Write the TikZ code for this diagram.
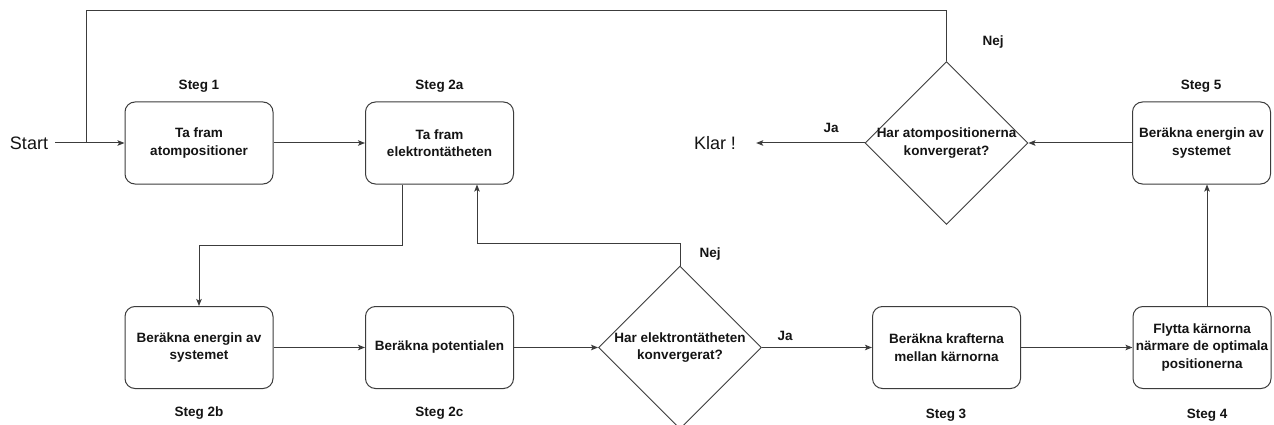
\documentclass[tikz,border=0pt]{standalone}
\usepackage{fontspec}
\setmainfont{Liberation Sans}
\usetikzlibrary{shapes.geometric,arrows.meta}
\definecolor{ln}{RGB}{60,60,60}
\definecolor{tx}{RGB}{20,20,20}
\begin{document}
\begin{tikzpicture}[x=1pt,y=-1pt,
  every node/.style={text=tx},
  box/.style={draw=ln,line width=1pt,rounded corners=10pt,minimum height=82pt,
    align=center,font=\bfseries\fontsize{13.5}{17.5}\selectfont,inner sep=2pt},
  dia/.style={draw=ln,line width=0.9pt,shape=diamond,minimum width=163pt,minimum height=163pt,inner sep=0pt},
  dtxt/.style={align=center,font=\bfseries\fontsize{13.5}{17.5}\selectfont,inner sep=0pt},
  lbl/.style={font=\bfseries\fontsize{13.5}{16}\selectfont,inner sep=0pt},
  big/.style={font=\fontsize{18}{20}\selectfont,inner sep=0pt},
  conn/.style={draw=ln,line width=1pt},
  arr/.style={conn,-{Stealth[length=7pt,width=5.5pt,inset=1.5pt]}}]
\useasboundingbox (0,0) rectangle (1274,425);
\fill[white] (0,0) rectangle (1274,425);
% nodes
\node[big] (start) at (29,143) {Start};
\node[box,minimum width=148pt] (b1) at (199,143) {Ta fram\\atompositioner};
\node[box,minimum width=148pt] (b2a) at (439.5,143) {Ta fram\\elektrontätheten};
\node[box,minimum width=148pt] (b2b) at (199,347.5) {Beräkna energin av\\systemet};
\node[box,minimum width=148pt] (b2c) at (439.5,347.5) {Beräkna potentialen};
\node[dia] (d1) at (680,347.5) {};
\node[dtxt] (d1t) at (680,347.5) {Har elektrontätheten\\konvergerat?};
\node[box,minimum width=148pt] (b3) at (946.5,347.5) {Beräkna krafterna\\mellan kärnorna};
\node[box,minimum width=138pt] (b4) at (1202,347.5) {Flytta kärnorna\\närmare de optimala\\positionerna};
\node[box,minimum width=138pt] (b5) at (1201.5,143) {Beräkna energin av\\systemet};
\node[dia] (d2) at (946.5,143) {};
\node[dtxt] (d2t) at (946.5,143) {Har atompositionerna\\konvergerat?};
\node[big] (klar) at (715,143) {Klar !};
% step labels
\node[lbl] (s1) at (199,86) {Steg 1};
\node[lbl] (s2a) at (439.5,86) {Steg 2a};
\node[lbl] (s5) at (1201,86) {Steg 5};
\node[lbl] (s2b) at (199,413) {Steg 2b};
\node[lbl] (s2c) at (439.5,413) {Steg 2c};
\node[lbl] (s3) at (946,415) {Steg 3};
\node[lbl] (s4) at (1207,415) {Steg 4};
\node[lbl] (nej1) at (993,42) {Nej};
\node[lbl] (ja1) at (831,128) {Ja};
\node[lbl] (nej2) at (710,254) {Nej};
\node[lbl] (ja2) at (785,336) {Ja};
% coordinates
\coordinate (lp) at (86,143);
\coordinate (ltop) at (86,11);
% connectors
\draw[arr] ([xshift=7pt]start.east) -- (b1.west);
\draw[conn] (d2.north) |- (ltop) -- (lp);
\draw[arr] (b1.east) -- (b2a.west);
\draw[arr] ([xshift=-37.5pt]b2a.south) -- ++(0,61) -| (b2b.north);
\draw[arr] (b2b.east) -- (b2c.west);
\draw[arr] (b2c.east) -- (d1.west);
\draw[arr] (d1.north) -- ++(0,-22) -| ([xshift=37.5pt]b2a.south);
\draw[arr] (d1.east) -- (b3.west);
\draw[arr] (b3.east) -- (b4.west);
\draw[arr] ([xshift=5pt]b4.north) -- ([xshift=5.5pt]b5.south);
\draw[arr] (b5.west) -- (d2.east);
\draw[arr] (d2.west) -- ([xshift=20pt]klar.east);
\end{tikzpicture}
\end{document}
